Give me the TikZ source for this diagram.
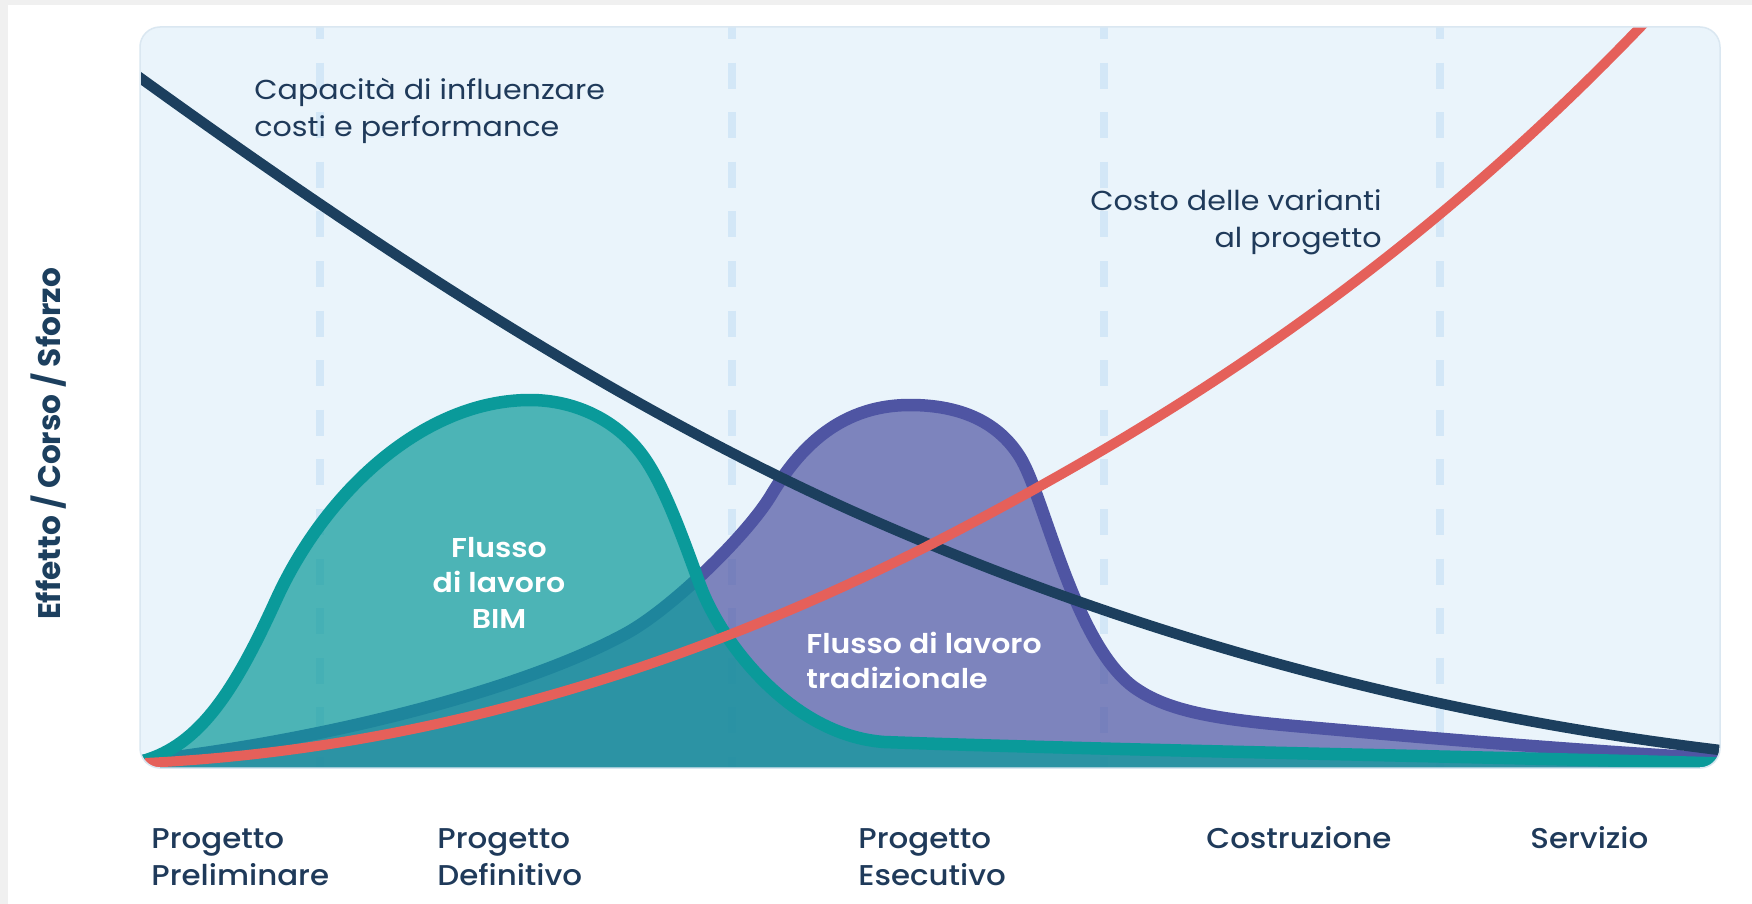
\documentclass[tikz,border=0pt]{standalone}
\usepackage{fontspec}
\setmainfont{Poppins}
\newfontfamily\widefont{Poppins}[FakeStretch=1.1]
\newfontfamily\medfont{Poppins Medium}[FakeStretch=1.08]
\newfontfamily\semifont{Poppins SemiBold}[FakeStretch=1.1]
\definecolor{outergray}{HTML}{F0F0F0}
\definecolor{panelbg}{HTML}{EAF4FB}
\definecolor{panelline}{HTML}{DAE7F1}
\definecolor{dashblue}{HTML}{D3E7F7}
\definecolor{navyc}{HTML}{1C3F5E}
\definecolor{textnavy}{HTML}{1F3A5A}
\definecolor{redc}{HTML}{E5605A}
\definecolor{tealc}{HTML}{0A9A9A}
\definecolor{purplec}{HTML}{4F55A3}
\tikzset{
  phaseline/.style={draw=dashblue, line width=4pt, dash pattern=on 13pt off 11.8pt},
  curvestroke/.style={line width=6.25pt, line join=round, line cap=round},
  toplabel/.style={font=\widefont\fontsize{13.7}{16}\selectfont, text=textnavy, inner sep=0pt},
  phaselabel/.style={font=\medfont\fontsize{14.3}{18}\selectfont, text=textnavy, inner sep=0pt, anchor=base west},
  flowlabel/.style={font=\semifont\fontsize{13.6}{16}\selectfont, text=white, inner sep=0pt},
  axislabel/.style={font=\bfseries\fontsize{15.6}{18}\selectfont, text=navyc, inner sep=0pt, rotate=90, anchor=base},
}
\def\purplepath{(143,761) .. controls (330,740) and (527,688) .. (627,633)
  .. controls (672,608) and (745,537) .. (770,497)
  .. controls (795,455) and (835,405) .. (910,405)
  .. controls (965,405) and (1000,425) .. (1020,457)
  .. controls (1045,497) and (1075,650) .. (1138,690)
  .. controls (1180,718) and (1250,722) .. (1340,730)
  .. controls (1450,740) and (1600,752) .. (1740,760)}
\def\tealpath{(143,761) .. controls (200,745) and (235,690) .. (276,600)
  .. controls (326,490) and (425,400) .. (530,400)
  .. controls (575,400) and (615,420) .. (640,452)
  .. controls (662,480) and (680,530) .. (700,585)
  .. controls (720,640) and (790,735) .. (884,742)
  .. controls (1100,750) and (1500,757) .. (1740,764)}
\begin{document}
\begin{tikzpicture}[x=0.5pt,y=-0.5pt]
\useasboundingbox (0,0) rectangle (1752,904);
\fill[white] (0,0) rectangle (1752,904);
\fill[outergray] (0,0) rectangle (1752,5);
\fill[outergray] (0,0) rectangle (8,904);
% panel
\path[fill=panelbg, rounded corners=10pt] (140,27) rectangle (1720,768);
\begin{scope}
  \clip[rounded corners=10pt] (140,27) rectangle (1720,768);
  \foreach \xx in {320,732,1104,1440} {
    \draw[phaseline] (\xx,13) -- (\xx,780);
  }
  % traditional workflow
  \fill[purplec, fill opacity=0.7] \purplepath -- (1740,790) -- (120,790) -- (120,761) -- cycle;
  \draw[purplec, curvestroke] \purplepath;
  % BIM workflow
  \fill[tealc, fill opacity=0.7] \tealpath -- (1740,790) -- (120,790) -- (120,761) -- cycle;
  \draw[tealc, curvestroke] \tealpath;
  % capacity to influence cost and performance
  \draw[navyc, line width=5.25pt]
    (120,63) -- (139,77) .. controls (376,248) and (613,403) .. (850,510)
    .. controls (1140,640) and (1430,715) .. (1720,750) -- (1745,753);
  % cost of design changes
  \draw[redc, line width=5pt]
    (145,763) .. controls (414,750) and (684,673) .. (953,533)
    .. controls (1185,412) and (1418,261) .. (1650,17);
\end{scope}
\draw[panelline, line width=0.75pt, rounded corners=10pt] (140,27) rectangle (1720,768);
% labels
\node[toplabel, anchor=base west] (cap1) at (254,100) {Capacità di influenzare};
\node[toplabel, anchor=base west] (cap2) at (254,137) {costi e performance};
\node[toplabel, anchor=base east] (cst1) at (1382,211) {Costo delle varianti};
\node[toplabel, anchor=base east] (cst2) at (1382,247) {al progetto};
\node[flowlabel, anchor=base] (bim1) at (499,557) {Flusso};
\node[flowlabel, anchor=base] (bim2) at (499,592) {di lavoro};
\node[flowlabel, anchor=base] (bim3) at (499,628) {BIM};
\node[flowlabel, anchor=base west] (tra1) at (806,653) {Flusso di lavoro};
\node[flowlabel, anchor=base west] (tra2) at (806,688) {tradizionale};
\node[axislabel] (ax) at (61,444) {Effetto / Corso / Sforzo};
\node[phaselabel] (p1a) at (151,848) {Progetto};
\node[phaselabel] (p1b) at (151,885) {Preliminare};
\node[phaselabel] (p2a) at (437,848) {Progetto};
\node[phaselabel] (p2b) at (437,885) {Definitivo};
\node[phaselabel] (p3a) at (858,848) {Progetto};
\node[phaselabel] (p3b) at (858,885) {Esecutivo};
\node[phaselabel] (p4) at (1206,848) {Costruzione};
\node[phaselabel] (p5) at (1530,848) {Servizio};
\end{tikzpicture}
\end{document}
